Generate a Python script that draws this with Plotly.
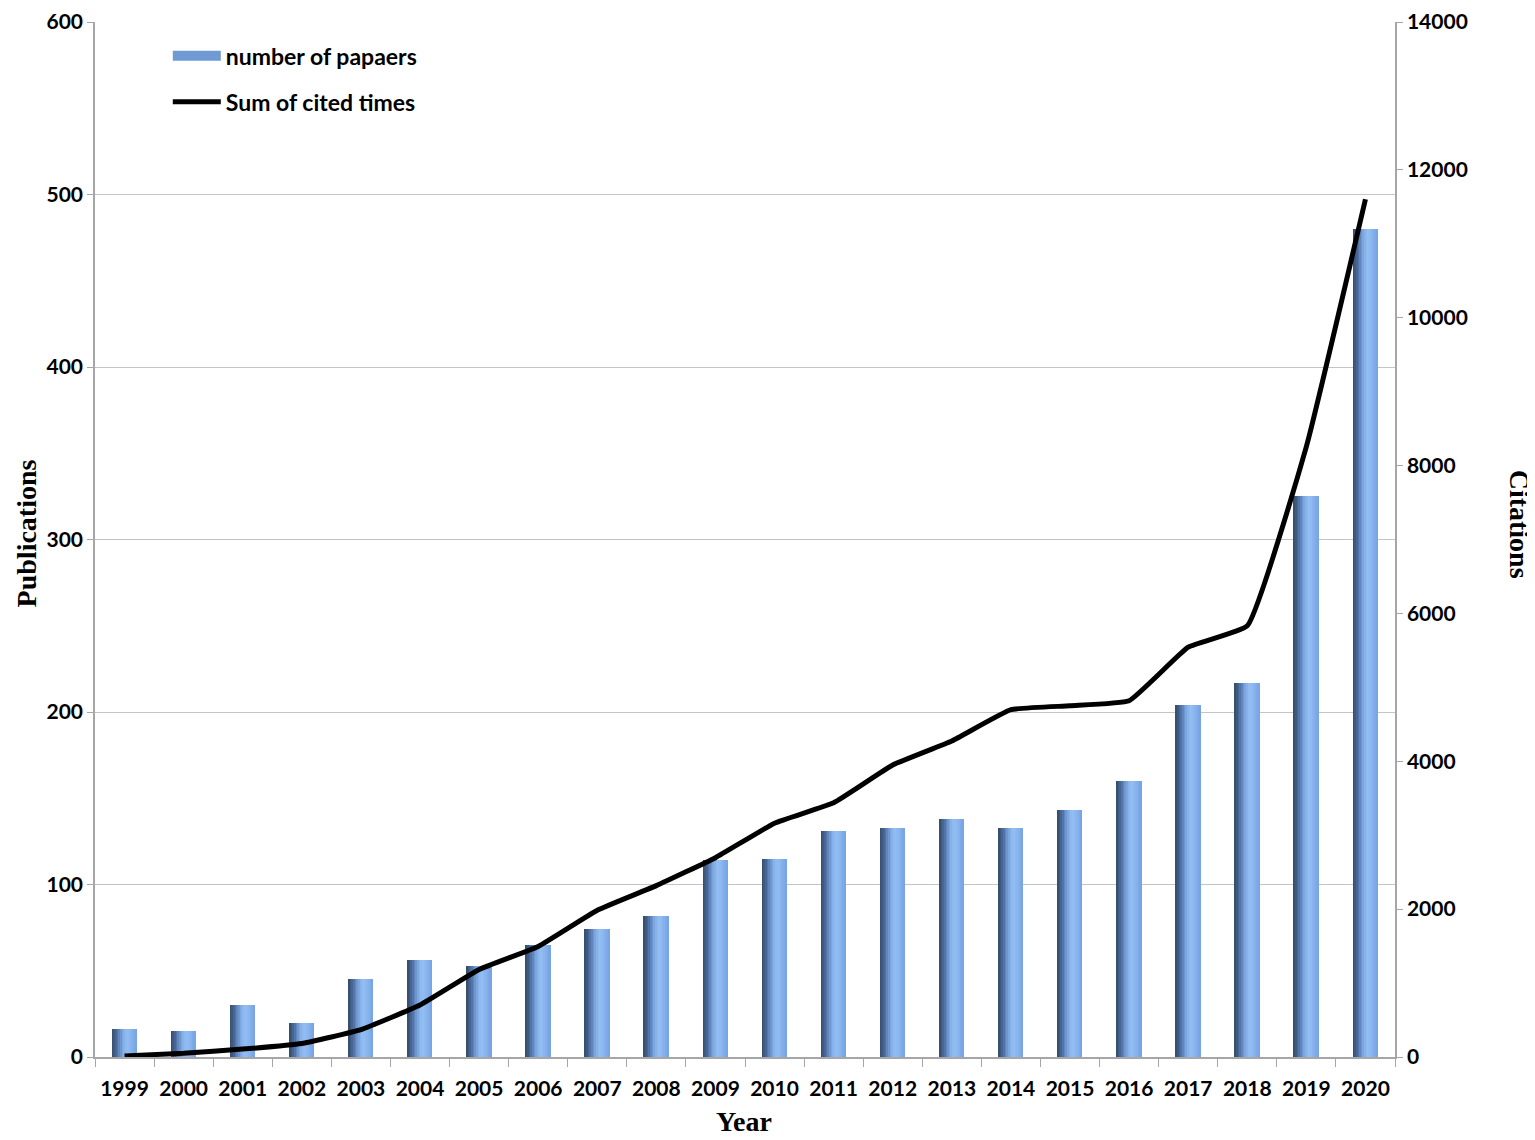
import plotly.graph_objects as go

# data
years = [str(y) for y in range(1999, 2021)]
papers = [16, 15, 30, 20, 45, 56, 53, 65, 74, 82, 114, 115,
          131, 133, 138, 133, 143, 160, 204, 217, 325, 480]
citations = [15, 50, 107, 183, 370, 703, 1184, 1495, 1985, 2318, 2696, 3163,
             3439, 3950, 4275, 4698, 4751, 4818, 5543, 5832, 8257, 11602]
pub_ticks = [0, 100, 200, 300, 400, 500, 600]
cite_ticks = [0, 2000, 4000, 6000, 8000, 10000, 12000, 14000]

# horizontal shading of each bar, dark left edge -> light middle -> medium right
shades = ["#38506f", "#3f5a80", "#486593", "#5374a8", "#6086bd", "#6e97cf",
          "#7ca6de", "#87b1e9", "#8ebaf0", "#92bdf3", "#8fbaf1", "#8ab5ee",
          "#84b0eb", "#7eaae8", "#79a5e5"]

BAR_W = 0.42
TICK_FONT = dict(family="Lato", size=21, color="black", weight="bold")
TITLE_FONT = dict(family="Liberation Serif", size=28, color="black", weight="bold")
AX_GREY = "#a6a6a6"

fig = go.Figure()

# bars built as thin side-by-side strips to fake the gradient fill
n = len(shades)
for i, c in enumerate(shades):
    fig.add_trace(go.Bar(
        x=years, y=papers,
        width=BAR_W / n * 1.02, offset=-BAR_W / 2 + i * BAR_W / n,
        marker=dict(color=c, line=dict(width=0)),
        showlegend=False, legendgroup="papers",
        hoverinfo="x+y" if i == 0 else "skip",
        name="number of papaers"))

# legend entry for the bars (wide rectangle like the original)
fig.add_trace(go.Scatter(
    x=[None], y=[None], mode="lines", name="number of papaers",
    line=dict(color="#6f9ad4", width=16), legendgroup="papers"))

fig.add_trace(go.Scatter(
    x=years, y=citations, yaxis="y2", mode="lines", name="Sum of cited times",
    line=dict(color="black", width=5, shape="spline", smoothing=0.35),
    legendgroup="cites"))

# page body has an 8px margin, so the figure is a bit smaller than the window
fig.update_layout(
    width=1527, height=1132,
    margin=dict(l=87, r=140, t=14, b=83),
    paper_bgcolor="white", plot_bgcolor="white",
    barmode="overlay", bargap=0,
    legend=dict(x=0.056, y=0.988, xanchor="left", yanchor="top",
                font=dict(family="Lato", size=23, color="black", weight="bold"),
                itemwidth=48, tracegroupgap=13, bgcolor="rgba(0,0,0,0)"),
    xaxis=dict(type="category", tickson="boundaries", ticks="outside",
               ticklen=8, tickcolor=AX_GREY, showline=True, automargin=False,
               ticklabelstandoff=12,
               linecolor=AX_GREY, linewidth=1.5, showgrid=False,
               tickfont=TICK_FONT, range=[-0.5, 21.5]),
    yaxis=dict(range=[0, 600], tickmode="array", tickvals=pub_ticks,
               ticks="outside", ticklen=6, automargin=False,
               ticklabeloverflow="allow",
               tickcolor=AX_GREY, showline=True, linecolor=AX_GREY,
               linewidth=1.5, showgrid=True, gridcolor="#c4c4c4",
               gridwidth=1.2, zeroline=False, tickfont=TICK_FONT),
    yaxis2=dict(range=[0, 14000], tickmode="array", tickvals=cite_ticks,
                tickformat="d", overlaying="y", side="right",
                ticklabeloverflow="allow",
                ticks="outside", ticklen=6, tickcolor=AX_GREY, automargin=False,
                showline=True, linecolor=AX_GREY, linewidth=1.5,
                showgrid=False, zeroline=False, tickfont=TICK_FONT),
    annotations=[
        dict(text="Publications", xref="paper", yref="paper", x=-0.053, y=0.506,
             xanchor="center", yanchor="middle",
             textangle=-90, showarrow=False, font=TITLE_FONT),
        dict(text="Citations", xref="paper", yref="paper", x=1.096, y=0.5145,
             xanchor="center", yanchor="middle",
             textangle=90, showarrow=False, font=TITLE_FONT),
        dict(text="Year", xref="paper", yref="paper", x=0.499, y=-0.062,
             xanchor="center", yanchor="middle",
             showarrow=False, font=TITLE_FONT),
    ],
)

fig.write_html("out.html")
